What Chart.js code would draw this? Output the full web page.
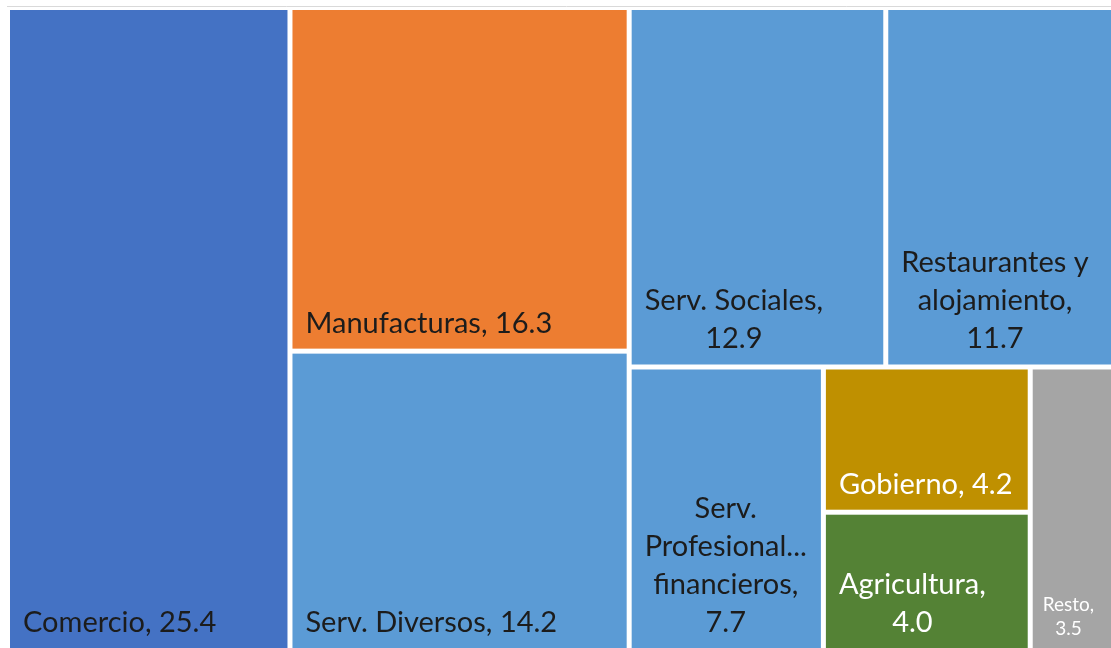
<!DOCTYPE html>
<html>
<head>
<meta charset="utf-8">
<script src="https://cdn.jsdelivr.net/npm/chart.js@4.4.0/dist/chart.umd.min.js"></script>
<style>
  html, body { margin: 0; padding: 0; background: #fff; overflow: hidden; }
  #wrap { width: 1111px; height: 648px; overflow: hidden; position: relative; }
  #treemap { position: absolute; left: 0; top: 0; }
</style>
</head>
<body>
<div id="wrap"><canvas id="treemap" width="1126" height="661"></canvas></div>
<script>
const sectors = ['Comercio', 'Manufacturas', 'Serv. Diversos', 'Serv. Sociales', 'Restaurantes y alojamiento',
    'Serv. Profesional... financieros', 'Gobierno', 'Agricultura', 'Resto'];
const shares = [25.4, 16.3, 14.2, 12.9, 11.7, 7.7, 4.2, 4.0, 3.5];
// strips of the treemap as seen in the picture (indexes into sectors)
const strips = [[0], [1, 2], [3, 4], [5], [6, 7], [8]];

const fillColors = ['#4472C4', '#ED7D31', '#5B9BD5', '#5B9BD5', '#5B9BD5', '#5B9BD5', '#BF9000', '#548235', '#A5A5A5'];
const textColors = ['#1c1c1c', '#1c1c1c', '#1c1c1c', '#1c1c1c', '#1c1c1c', '#1c1c1c', '#ffffff', '#ffffff', '#ffffff'];

// lay the strips out in 0..1 units, orientation picked from the pixel shape of what is left
function layout(pxW, pxH) {
    const cells = [];
    let x = 0, y = 0, w = 1, h = 1;
    let left = shares.reduce((a, b) => a + b, 0);
    strips.forEach(strip => {
        const sum = strip.reduce((a, i) => a + shares[i], 0);
        const frac = sum / left;
        if (w * pxW >= h * pxH) {
            const sw = w * frac;
            let cy = y;
            strip.forEach(i => {
                const ch = h * shares[i] / sum;
                cells[i] = {x0: x, x1: x + sw, y0: cy, y1: cy + ch};
                cy += ch;
            });
            x += sw;
            w -= sw;
        } else {
            const sh = h * frac;
            let cx = x;
            strip.forEach(i => {
                const cw = w * shares[i] / sum;
                cells[i] = {x0: cx, x1: cx + cw, y0: y, y1: y + sh};
                cx += cw;
            });
            y += sh;
            h -= sh;
        }
        left -= sum;
    });
    return cells;
}

function drawLabel(ctx, text, l, t, r, b, color) {
    const small = r - l < 110;
    const size = small ? 19 : 29;
    const lineH = small ? 24 : 38;
    const pad = small ? 10 : 13;
    const bottomPad = small ? 13 : 16;
    ctx.font = `${size}px Lato`;
    const maxW = r - l - 2 * pad + 4;
    const lines = [];
    let cur = '';
    text.split(' ').forEach(word => {
        const test = cur ? cur + ' ' + word : word;
        if (cur && ctx.measureText(test).width > maxW) {
            lines.push(cur);
            cur = word;
        } else {
            cur = test;
        }
    });
    lines.push(cur);
    const blockW = Math.max(...lines.map(s => ctx.measureText(s).width));
    const cx = l + pad + blockW / 2;
    ctx.fillStyle = color;
    ctx.textAlign = 'center';
    ctx.textBaseline = 'alphabetic';
    lines.forEach((s, k) => ctx.fillText(s, cx, b - bottomPad - (lines.length - 1 - k) * lineH));
}

const treemapPlugin = {
    id: 'treemap',
    beforeDatasetsDraw(chart) {
        const {ctx, chartArea, scales: {x, y}} = chart;
        ctx.save();
        // chart frame top line
        ctx.strokeStyle = '#d9d9d9';
        ctx.lineWidth = 1;
        ctx.beginPath();
        ctx.moveTo(7, 6.5);
        ctx.lineTo(chart.width, 6.5);
        ctx.stroke();

        const cells = layout(chartArea.width, chartArea.height);
        const gap = 2.5;
        cells.forEach((c, i) => {
            const l = x.getPixelForValue(c.x0) + gap;
            const r = x.getPixelForValue(c.x1) - gap;
            const t = y.getPixelForValue(c.y0) + gap;
            const b = y.getPixelForValue(c.y1) - gap;
            ctx.fillStyle = fillColors[i];
            ctx.fillRect(l, t, r - l, b - t);
            drawLabel(ctx, `${sectors[i]}, ${shares[i].toFixed(1)}`, l, t, r, b, textColors[i]);
        });
        ctx.restore();
    }
};

document.fonts.load('29px Lato').then(() => {
    new Chart(document.getElementById('treemap').getContext('2d'), {
        type: 'scatter',
        data: {
            datasets: [{label: 'Participación', data: []}]
        },
        options: {
            responsive: false,
            animation: false,
            layout: {
                padding: {left: 7.5, top: 7.5, right: 7.5, bottom: 10.5}
            },
            scales: {
                x: {type: 'linear', min: 0, max: 1, display: false},
                y: {type: 'linear', min: 0, max: 1, reverse: true, display: false}
            },
            plugins: {
                legend: {display: false},
                tooltip: {enabled: false}
            }
        },
        plugins: [treemapPlugin]
    });
});
</script>
</body>
</html>
